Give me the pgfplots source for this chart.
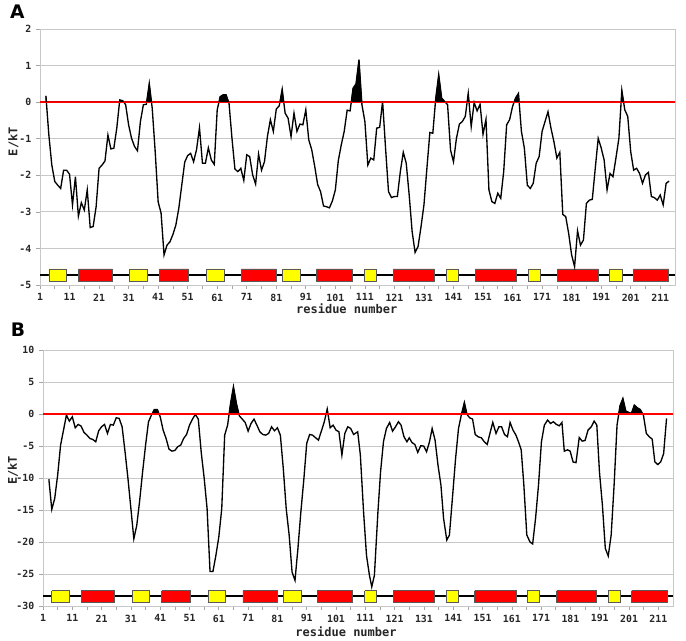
\documentclass[border=0pt]{standalone}
\usepackage{fontspec}
\setmainfont{DejaVu Sans}
\setsansfont{DejaVu Sans}
\setmonofont{DejaVu Sans Mono}
\usepackage{pgfplots}
\pgfplotsset{compat=1.18}
\usepackage{pgfplotstable}

\definecolor{gridgray}{HTML}{C8C8C8}
\definecolor{boxyellow}{HTML}{FFFF00}
\definecolor{boxred}{HTML}{FF0000}

\pgfplotstableread{
r v
3 0.17
4 -0.9
5 -1.72
6 -2.17
7 -2.27
8 -2.36
9 -1.86
10 -1.86
11 -1.97
12 -2.81
13 -2.04
14 -3.12
15 -2.75
16 -2.95
17 -2.40
18 -3.43
19 -3.40
20 -2.86
21 -1.81
22 -1.72
23 -1.61
24 -0.90
25 -1.28
26 -1.26
27 -0.71
28 0.06
29 0.04
30 -0.07
31 -0.62
32 -0.99
33 -1.21
34 -1.33
35 -0.53
36 -0.07
37 -0.06
38 0.51
39 -0.17
40 -1.35
41 -2.72
42 -3.04
43 -4.18
44 -3.91
45 -3.82
46 -3.62
47 -3.36
48 -2.90
49 -2.27
50 -1.64
51 -1.46
52 -1.40
53 -1.63
54 -1.30
55 -0.70
56 -1.67
57 -1.67
58 -1.25
59 -1.58
60 -1.70
61 -0.21
62 0.15
63 0.20
64 0.20
65 -0.03
66 -0.99
67 -1.83
68 -1.90
69 -1.81
70 -2.14
71 -1.44
72 -1.49
73 -1.99
74 -2.24
75 -1.42
76 -1.86
77 -1.63
78 -0.94
79 -0.48
80 -0.80
81 -0.19
82 -0.10
83 0.35
84 -0.30
85 -0.44
86 -0.94
87 -0.30
88 -0.80
89 -0.60
90 -0.62
91 -0.21
92 -1.03
93 -1.30
94 -1.75
95 -2.25
96 -2.45
97 -2.84
98 -2.86
99 -2.89
100 -2.70
101 -2.40
102 -1.60
103 -1.17
104 -0.80
105 -0.22
106 -0.24
107 0.38
108 0.50
109 1.16
110 -0.07
111 -0.53
112 -1.72
113 -1.53
114 -1.58
115 -0.71
116 -0.69
117 0.02
118 -1.26
119 -2.45
120 -2.61
121 -2.58
122 -2.58
123 -1.90
124 -1.37
125 -1.67
126 -2.54
127 -3.54
128 -4.11
129 -3.95
130 -3.41
131 -2.81
132 -1.81
133 -0.83
134 -0.85
135 0.11
136 0.75
137 0.11
138 0.02
139 -0.07
140 -1.31
141 -1.63
142 -0.99
143 -0.60
144 -0.53
145 -0.39
146 0.24
147 -0.67
148 -0.01
149 -0.24
150 -0.06
151 -0.88
152 -0.47
153 -2.40
154 -2.72
155 -2.77
156 -2.49
157 -2.63
158 -1.90
159 -0.62
160 -0.48
161 -0.12
162 0.11
163 0.24
164 -0.80
165 -1.26
166 -2.27
167 -2.36
168 -2.22
169 -1.67
170 -1.49
171 -0.80
172 -0.53
173 -0.26
174 -0.71
175 -1.08
176 -1.53
177 -1.37
178 -3.07
179 -3.13
180 -3.59
181 -4.18
182 -4.50
183 -3.52
184 -3.91
185 -3.77
186 -2.77
187 -2.68
188 -2.66
189 -1.81
190 -0.99
191 -1.25
192 -1.58
193 -2.40
194 -1.95
195 -2.04
196 -1.53
197 -0.99
198 0.32
199 -0.21
200 -0.39
201 -1.35
202 -1.86
203 -1.81
204 -1.95
205 -2.22
206 -1.99
207 -1.92
208 -2.58
209 -2.61
210 -2.68
211 -2.54
212 -2.81
213 -2.22
214 -2.16
}\dataA

\pgfplotstableread{
r v
3 -10.2
4 -14.9
5 -13.2
6 -9.56
7 -4.86
8 -2.52
9 -0.17
10 -1.11
11 -0.43
12 -2.15
13 -1.63
14 -1.89
15 -2.88
16 -3.30
17 -3.82
18 -3.98
19 -4.34
20 -2.62
21 -1.99
22 -1.63
23 -3.04
24 -1.63
25 -1.74
26 -0.59
27 -0.69
28 -2.00
29 -5.90
30 -10.1
31 -14.8
32 -19.5
33 -17.4
34 -13.5
35 -9.0
36 -4.9
37 -1.21
38 -0.17
39 0.71
40 0.71
41 -0.43
42 -2.52
43 -3.82
44 -5.5
45 -5.8
46 -5.7
47 -5.1
48 -4.86
49 -3.82
50 -3.2
51 -1.74
52 -0.8
53 -0.07
54 -0.8
55 -6.0
56 -10.0
57 -14.8
58 -24.6
59 -24.6
60 -22.1
61 -19.2
62 -14.8
63 -3.3
64 -1.74
65 1.65
66 4.26
67 1.65
68 -0.28
69 -0.8
70 -1.32
71 -2.68
72 -1.48
73 -0.8
74 -1.74
75 -2.78
76 -3.2
77 -3.3
78 -3.04
79 -2.0
80 -2.62
81 -2.15
82 -3.3
83 -8.5
84 -14.8
85 -18.9
86 -24.7
87 -26.0
88 -21.0
89 -15.3
90 -10.3
91 -4.6
92 -3.2
93 -3.3
94 -3.7
95 -4.08
96 -2.68
97 -1.21
98 0.77
99 -2.15
100 -1.74
101 -2.52
102 -2.78
103 -6.44
104 -3.04
105 -2.0
106 -2.26
107 -3.2
108.4 -2.78
109.3 -6.4
110.4 -15.3
111.4 -22.1
112.4 -25.2
113.2 -27.0
114.1 -25.2
115.3 -15.3
116.2 -9.03
117.2 -4.3
118.2 -2.26
119.3 -1.32
120.3 -2.68
121.3 -2.0
122.3 -1.21
123.2 -1.74
124.2 -3.56
125.2 -4.34
126 -3.72
126.9 -4.45
127.9 -4.76
128.9 -6.0
129.9 -4.97
130.9 -5.0
131.9 -5.9
132.9 -4.34
133.8 -2.26
134.8 -4.08
135.8 -8.0
136.8 -11.1
137.7 -16.3
138.8 -19.7
139.7 -18.9
140.8 -12.7
141.8 -6.96
142.8 -2.26
143.8 -0.07
144.8 1.8
145.7 -0.07
146.6 -0.59
147.6 -0.8
148.5 -3.2
149.5 -3.56
150.6 -3.72
151.6 -4.34
152.6 -4.76
153.6 -2.88
154.5 -1.32
155.6 -3.04
156.6 -2.0
157.5 -2.0
158.5 -3.2
159.5 -3.56
160.4 -1.32
161.4 -2.52
162.4 -3.3
163.4 -4.5
164.2 -5.6
165.1 -11.1
166.1 -18.9
167.2 -20.0
168.1 -20.3
169.1 -16.3
170.1 -11.1
171.1 -4.34
172.1 -1.74
173.2 -0.95
174.2 -1.48
175.2 -1.21
176.2 -1.63
177.2 -1.84
178.1 -1.32
178.9 -5.8
180 -5.6
180.9 -5.8
181.9 -7.5
182.9 -7.6
184 -3.67
185 -4.24
186 -4.13
187 -2.52
188.1 -2.0
189.1 -1.11
190 -1.74
190.9 -9.03
191.9 -14.2
192.9 -21.0
193.9 -22.2
194.9 -18.9
195.9 -11.1
196.9 -1.74
197.9 1.28
198.9 2.43
199.9 0.45
200.9 0.25
201.8 0.09
202.8 1.39
203.8 0.98
204.8 0.71
205.9 -0.17
206.9 -3.04
207.9 -3.56
208.9 -3.93
209.8 -7.48
210.8 -7.9
211.8 -7.48
212.8 -6.2
213.8 -0.69
}\dataB

% domain boxes: colour, from, to, top, bottom
\newcommand{\dombox}[5]{\addplot[fill=#1, draw=black!65, line width=0.5pt] coordinates {(#2,#4) (#3,#4) (#3,#5) (#2,#5) (#2,#4)};}
\newcommand{\domains}[3]{%
  \addplot[black, line width=1.5pt] coordinates {(1,#3) (216,#3)};
  \dombox{boxyellow}{4}{10}{#1}{#2}
  \dombox{boxred}{14}{25.5}{#1}{#2}
  \dombox{boxyellow}{31.4}{37.4}{#1}{#2}
  \dombox{boxred}{41.5}{51.3}{#1}{#2}
  \dombox{boxyellow}{57.3}{63.3}{#1}{#2}
  \dombox{boxred}{69.2}{81}{#1}{#2}
  \dombox{boxyellow}{83}{89}{#1}{#2}
  \dombox{boxred}{94.6}{106.6}{#1}{#2}
  \dombox{boxyellow}{110.8}{114.8}{#1}{#2}
  \dombox{boxred}{120.6}{134.5}{#1}{#2}
  \dombox{boxyellow}{138.5}{142.6}{#1}{#2}
  \dombox{boxred}{148.3}{162.4}{#1}{#2}
  \dombox{boxyellow}{166.3}{170.4}{#1}{#2}
  \dombox{boxred}{176.3}{190}{#1}{#2}
  \dombox{boxyellow}{193.9}{198.1}{#1}{#2}
  \dombox{boxred}{201.9}{213.9}{#1}{#2}
}

\pgfplotsset{
  resstyle/.style={
    scale only axis,
    xmin=1, xmax=216,
    xtick={1,11,...,211},
    minor x tick num=1,
    ymajorgrids,
    grid style={gridgray, line width=0.6pt},
    axis line style={gridgray, line width=0.7pt},
    tick style={gray!70, line width=0.5pt},
    tick align=outside,
    major tick length=3pt, minor tick length=3pt,
    xtick pos=left, ytick pos=left,
    /pgf/number format/assume math mode=true,
    ticklabel style={font=\ttfamily\bfseries\fontsize{7.4}{8}\selectfont, text=black!85},
    label style={font=\ttfamily\bfseries\fontsize{9}{10}\selectfont, text=black!85},
    xlabel={residue number},
    ylabel={E/kT},
  }
}

\begin{document}
\begin{tikzpicture}
\node[font=\sffamily\bfseries\fontsize{14}{16}\selectfont] at (13pt,471.5pt) {A};
\node[font=\sffamily\bfseries\fontsize{14}{16}\selectfont] at (13.5pt,232.5pt) {B};

\begin{axis}[resstyle,
  at={(30pt,266.25pt)}, anchor=south west,
  width=476.25pt, height=192pt,
  ymin=-5, ymax=2, ytick={-5,-4,...,2},
  xlabel style={at={(axis description cs:0.483,-0.094)}, anchor=center},
  ylabel style={at={(axis description cs:-0.042,0.56)}, anchor=center},
]
\domains{-4.56}{-4.9}{-4.72}
\addplot[black, line width=1pt] table[x=r, y=v] {\dataA};
\addplot[red, line width=1.5pt] coordinates {(1,0) (216,0)};
\clip (axis cs:1,0.028) rectangle (axis cs:216,3);
\addplot[fill=black, draw=black, line width=0.5pt] table[x=r, y=v] {\dataA} \closedcycle;
\end{axis}

\begin{axis}[resstyle,
  at={(32.25pt,25.5pt)}, anchor=south west,
  width=472.5pt, height=192pt,
  ymin=-30, ymax=10, ytick={-30,-25,...,10},
  xlabel style={at={(axis description cs:0.481,-0.10)}, anchor=center},
  ylabel style={at={(axis description cs:-0.048,0.53)}, anchor=center},
]
\domains{-27.6}{-29.5}{-28.5}
\addplot[black, line width=1pt] table[x=r, y=v] {\dataB};
\addplot[red, line width=1.5pt] coordinates {(1,0) (216,0)};
\clip (axis cs:1,0.16) rectangle (axis cs:216,12);
\addplot[fill=black, draw=black, line width=0.5pt] table[x=r, y=v] {\dataB} \closedcycle;
\end{axis}
\pgfresetboundingbox
\useasboundingbox (0pt,0pt) rectangle (514.5pt,480pt);
\end{tikzpicture}
\end{document}
